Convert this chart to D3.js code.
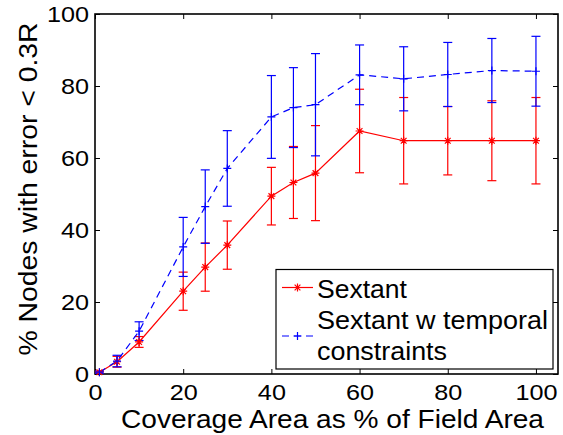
<!DOCTYPE html>
<html>
<head>
<meta charset="utf-8">
<script src="https://cdn.jsdelivr.net/npm/d3@7"></script>
<style>
  html, body { margin: 0; padding: 0; background: #fff; }
  svg { display: block; }
  text { font-family: "Liberation Sans", Arial, sans-serif; fill: #000; }
</style>
</head>
<body>
<svg id="chart" width="563" height="435"></svg>
<script>
// Coverage area (% of field area) at which localization was evaluated
const coverage = [1, 5, 10, 20, 25, 30, 40, 45, 50, 60, 70, 80, 90, 100];

// Sextant: mean % of nodes with error < 0.3R, and error-bar half-width
const sextantMean = [0.5, 3.4, 8.9, 23.0, 29.7, 35.8, 49.4, 53.2, 55.8, 67.5, 64.8, 64.8, 64.8, 64.8];
const sextantErr  = [0.3, 1.5, 1.5, 5.3, 6.7, 6.7, 8.0, 10.0, 13.2, 11.6, 12.0, 9.5, 11.1, 12.0];

// Sextant with temporal constraints
const temporalMean = [0.5, 3.6, 11.9, 35.3, 46.5, 57.1, 71.4, 74.0, 74.8, 83.1, 82.0, 83.2, 84.3, 84.1];
const temporalErr  = [0.3, 1.6, 2.6, 8.2, 10.2, 10.5, 11.5, 11.1, 14.2, 8.3, 8.9, 8.9, 8.9, 9.7];

const xTicks = [0, 20, 40, 60, 80, 100];
const yTicks = [0, 20, 40, 60, 80, 100];

const seriesNames = ["Sextant", "Sextant w temporal", "constraints"];

const svg = d3.select("#chart");
const L = 95, R = 558, T = 14, B = 374;

const x = d3.scaleLinear().domain([0, 105]).range([L, R]);
const y = d3.scaleLinear().domain([0, 100]).range([B, T]);

const red = "#ff0000", blue = "#0000ff";

// widen glyphs slightly (the figure's lettering is a bit broader than Liberation Sans)
function widen(sel, factor) {
  sel.each(function () {
    const w = this.getComputedTextLength();
    if (w > 0) d3.select(this).attr("textLength", w * factor).attr("lengthAdjust", "spacingAndGlyphs");
  });
}
function fitWidth(sel, width) {
  sel.attr("textLength", width).attr("lengthAdjust", "spacingAndGlyphs");
}

// axes (ticks point inward, mirrored on top/right)
const gx = svg.append("g").attr("transform", `translate(0,${B})`)
  .call(d3.axisBottom(x).tickValues(xTicks).tickSizeInner(-5).tickSizeOuter(0).tickPadding(10.5));
const gy = svg.append("g").attr("transform", `translate(${L},0)`)
  .call(d3.axisLeft(y).tickValues(yTicks).tickSizeInner(-5).tickSizeOuter(0).tickPadding(6));
const gt = svg.append("g").attr("transform", `translate(0,${T})`)
  .call(d3.axisTop(x).tickValues(xTicks).tickSizeInner(-5).tickSizeOuter(0).tickFormat(""));
const gr = svg.append("g").attr("transform", `translate(${R},0)`)
  .call(d3.axisRight(y).tickValues(yTicks).tickSizeInner(-5).tickSizeOuter(0).tickFormat(""));
[gx, gy, gt, gr].forEach(g => {
  g.select(".domain").remove();
  g.selectAll(".tick line").attr("stroke", "#000").attr("stroke-width", 1);
  g.selectAll(".tick text").attr("font-size", "22.5px")
    .attr("font-family", "'Liberation Sans', Arial, sans-serif").attr("fill", "#000");
  widen(g.selectAll(".tick text"), 1.12);
});

// plot box
svg.append("rect").attr("x", L).attr("y", T).attr("width", R - L).attr("height", B - T)
  .attr("fill", "none").attr("stroke", "#000").attr("stroke-width", 1.6);

// axis titles
fitWidth(svg.append("text").attr("x", 332.5).attr("y", 428)
  .attr("text-anchor", "middle").attr("font-size", "25px")
  .text("Coverage Area as % of Field Area"), 423);
fitWidth(svg.append("text").attr("transform", "translate(37,189) rotate(-90)")
  .attr("text-anchor", "middle").attr("font-size", "25.5px")
  .text("% Nodes with error < 0.3R"), 333);

const plot = svg.append("g");

function errorBars(mean, err, color) {
  const g = plot.append("g").attr("stroke", color).attr("stroke-width", 1.2).attr("fill", "none");
  coverage.forEach((c, i) => {
    const cx = x(c), y0 = y(mean[i] - err[i]), y1 = y(mean[i] + err[i]);
    g.append("line").attr("x1", cx).attr("x2", cx).attr("y1", y0).attr("y2", y1);
    g.append("line").attr("x1", cx - 4.5).attr("x2", cx + 4.5).attr("y1", y0).attr("y2", y0);
    g.append("line").attr("x1", cx - 4.5).attr("x2", cx + 4.5).attr("y1", y1).attr("y2", y1);
  });
}

function starPath(cx, cy, r) {
  const d = r * 0.72;
  return `M${cx - r},${cy}H${cx + r}M${cx},${cy - r}V${cy + r}` +
         `M${cx - d},${cy - d}L${cx + d},${cy + d}M${cx - d},${cy + d}L${cx + d},${cy - d}`;
}
function plusPath(cx, cy, r) {
  return `M${cx - r},${cy}H${cx + r}M${cx},${cy - r}V${cy + r}`;
}

const line = d3.line().x(d => x(d[0])).y(d => y(d[1]));

errorBars(sextantMean, sextantErr, red);
errorBars(temporalMean, temporalErr, blue);

plot.append("path").datum(coverage.map((c, i) => [c, sextantMean[i]]))
  .attr("d", line).attr("fill", "none").attr("stroke", red).attr("stroke-width", 1.2);
plot.append("path").datum(coverage.map((c, i) => [c, temporalMean[i]]))
  .attr("d", line).attr("fill", "none").attr("stroke", blue).attr("stroke-width", 1.2)
  .attr("stroke-dasharray", "7,5");

plot.append("path")
  .attr("d", coverage.map((c, i) => starPath(x(c), y(sextantMean[i]), 4)).join(""))
  .attr("stroke", red).attr("stroke-width", 1.2).attr("fill", "none");
plot.append("path")
  .attr("d", coverage.map((c, i) => plusPath(x(c), y(temporalMean[i]), 4)).join(""))
  .attr("stroke", blue).attr("stroke-width", 1.2).attr("fill", "none");

// legend
const lg = svg.append("g");
lg.append("rect").attr("x", 276).attr("y", 269.5).attr("width", 277).attr("height", 99.5)
  .attr("fill", "#fff").attr("stroke", "#000").attr("stroke-width", 1.2);
lg.append("line").attr("x1", 282).attr("x2", 313).attr("y1", 287.5).attr("y2", 287.5)
  .attr("stroke", red).attr("stroke-width", 1.2);
lg.append("path").attr("d", starPath(297.5, 287.5, 4)).attr("stroke", red).attr("stroke-width", 1.2);
lg.append("line").attr("x1", 282).attr("x2", 313).attr("y1", 336).attr("y2", 336)
  .attr("stroke", blue).attr("stroke-width", 1.2).attr("stroke-dasharray", "7,5");
lg.append("path").attr("d", plusPath(297.5, 336, 4)).attr("stroke", blue).attr("stroke-width", 1.2);
fitWidth(lg.append("text").attr("x", 317).attr("y", 298).attr("font-size", "25.5px").text(seriesNames[0]), 90);
fitWidth(lg.append("text").attr("x", 317).attr("y", 329).attr("font-size", "25.5px").text(seriesNames[1]), 231);
fitWidth(lg.append("text").attr("x", 317).attr("y", 360).attr("font-size", "25.5px").text(seriesNames[2]), 130);
</script>
</body>
</html>
